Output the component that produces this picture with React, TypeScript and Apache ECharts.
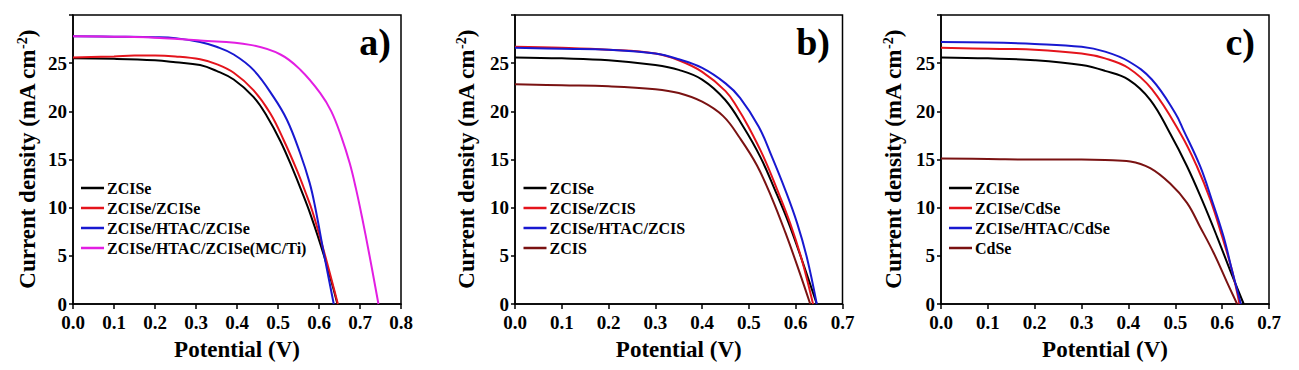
import { useEffect, useRef } from "react";
import * as echarts from "echarts";

// ---------- Panel a ----------
const aV_ZCISe = [0, 0.1, 0.2, 0.25, 0.31, 0.35, 0.392, 0.44, 0.473, 0.506, 0.538, 0.555, 0.58, 0.613, 0.645];
const aJ_ZCISe = [25.5, 25.45, 25.3, 25.1, 24.8, 24.2, 23.3, 21.5, 19.5, 16.9, 13.8, 12.0, 9.2, 4.9, 0];
const aV_ZZ = [0, 0.1, 0.15, 0.2, 0.25, 0.31, 0.35, 0.392, 0.44, 0.481, 0.514, 0.546, 0.567, 0.584, 0.615, 0.646];
const aJ_ZZ = [25.6, 25.7, 25.8, 25.8, 25.7, 25.4, 24.9, 24.0, 22.2, 19.8, 17.0, 13.9, 11.6, 9.6, 5.0, 0];
const aV_ZHZ = [0, 0.1, 0.2, 0.25, 0.31, 0.35, 0.392, 0.44, 0.489, 0.522, 0.554, 0.577, 0.59, 0.613, 0.636];
const aJ_ZHZ = [27.8, 27.75, 27.7, 27.6, 27.2, 26.7, 25.9, 24.3, 21.5, 19.1, 15.65, 12.6, 10.2, 5.0, 0];
const aV_MC = [0, 0.1, 0.2, 0.31, 0.432, 0.506, 0.555, 0.603, 0.63, 0.655, 0.675, 0.69, 0.705, 0.722, 0.745];
const aJ_MC = [27.8, 27.75, 27.65, 27.35, 26.9, 25.9, 24.3, 21.9, 20.0, 17.3, 14.6, 12.0, 9.0, 5.3, 0];

// ---------- Panel b ----------
const bV_ZCISe = [0, 0.1, 0.2, 0.3, 0.35, 0.4, 0.449, 0.488, 0.524, 0.556, 0.585, 0.613, 0.645];
const bJ_ZCISe = [25.6, 25.5, 25.3, 24.8, 24.3, 23.3, 21.2, 18.4, 15.3, 11.8, 8.4, 4.6, 0];
const bV_ZZCIS = [0, 0.1, 0.2, 0.3, 0.35, 0.4, 0.45, 0.475, 0.499, 0.531, 0.561, 0.588, 0.613, 0.637];
const bJ_ZZCIS = [26.7, 26.6, 26.4, 26.0, 25.3, 24.1, 22.1, 20.4, 18.4, 15.3, 11.8, 8.4, 4.6, 0];
const bV_ZHZCIS = [0, 0.1, 0.2, 0.3, 0.35, 0.4, 0.45, 0.481, 0.521, 0.549, 0.578, 0.603, 0.624, 0.645];
const bJ_ZHZCIS = [26.6, 26.5, 26.4, 26.0, 25.4, 24.5, 22.9, 21.4, 18.4, 15.3, 11.8, 8.4, 4.8, 0];
const bV_ZCIS = [0, 0.1, 0.2, 0.3, 0.35, 0.4, 0.445, 0.481, 0.517, 0.549, 0.578, 0.606, 0.631];
const bJ_ZCIS = [22.8, 22.7, 22.6, 22.3, 21.9, 21.0, 19.5, 17.2, 14.4, 11.0, 7.4, 3.6, 0];

// ---------- Panel c ----------
const cV_ZCISe = [0, 0.1, 0.2, 0.3, 0.35, 0.4, 0.4465, 0.489, 0.525, 0.557, 0.589, 0.617, 0.646];
const cJ_ZCISe = [25.6, 25.5, 25.3, 24.8, 24.2, 23.3, 21.2, 17.7, 14.3, 10.8, 7.0, 3.5, 0];
const cV_ZCdSe = [0, 0.1, 0.2, 0.3, 0.35, 0.4, 0.45, 0.511, 0.546, 0.575, 0.6, 0.621, 0.637];
const cJ_ZCdSe = [26.6, 26.5, 26.4, 26.0, 25.5, 24.5, 22.3, 17.7, 14.3, 10.8, 7.0, 3.5, 0];
const cV_ZHCdSe = [0, 0.1, 0.2, 0.3, 0.35, 0.4, 0.45, 0.5, 0.518, 0.553, 0.578, 0.603, 0.621, 0.64];
const cJ_ZHCdSe = [27.2, 27.15, 27.0, 26.7, 26.2, 25.2, 23.3, 19.8, 18.0, 14.3, 10.8, 7.0, 3.5, 0];
const cV_CdSe = [0, 0.1, 0.2, 0.3, 0.35, 0.404, 0.4465, 0.489, 0.525, 0.553, 0.582, 0.61, 0.632];
const cJ_CdSe = [15.1, 15.05, 15.0, 15.0, 14.95, 14.8, 14.1, 12.5, 10.5, 8.0, 5.3, 2.3, 0];

const yTicks = [0, 5, 10, 15, 20, 25];
const panelLabels = ["a)", "b)", "c)"];

const BLACK = "#000000";
const RED = "#e4141c";
const BLUE = "#1818d0";
const MAGENTA = "#e21ee2";
const BROWN = "#7a1212";

const FONT = "Liberation Serif";

const zip = (xs: number[], ys: number[]) => xs.map((x, i) => [x, ys[i]]);

export default function App() {
  const ref = useRef<HTMLDivElement>(null);

  useEffect(() => {
    document.body.style.margin = "0";
    const chart = echarts.init(ref.current!, null, { renderer: "svg" });

    const grids = [
      { left: 73, top: 15, width: 328, height: 289 },
      { left: 515, top: 15, width: 327.5, height: 289 },
      { left: 941, top: 15, width: 328, height: 289 },
    ];
    const xMax = [0.8, 0.7, 0.7];
    const yNameGap = [34, 37, 35.5];

    const mk = (name: string, xs: number[], ys: number[], color: string, idx: number) => ({
      type: "line",
      name,
      xAxisIndex: idx,
      yAxisIndex: idx,
      data: zip(xs, ys),
      showSymbol: false,
      symbol: "none",
      smooth: 0.4,
      lineStyle: { color, width: 2 },
      itemStyle: { color },
      z: 3,
    });

    const series = [
      mk("ZCISe", aV_ZCISe, aJ_ZCISe, BLACK, 0),
      mk("ZCISe/ZCISe", aV_ZZ, aJ_ZZ, RED, 0),
      mk("ZCISe/HTAC/ZCISe", aV_ZHZ, aJ_ZHZ, BLUE, 0),
      mk("ZCISe/HTAC/ZCISe(MC/Ti)", aV_MC, aJ_MC, MAGENTA, 0),
      mk("ZCISe", bV_ZCISe, bJ_ZCISe, BLACK, 1),
      mk("ZCISe/ZCIS", bV_ZZCIS, bJ_ZZCIS, RED, 1),
      mk("ZCISe/HTAC/ZCIS", bV_ZHZCIS, bJ_ZHZCIS, BLUE, 1),
      mk("ZCIS", bV_ZCIS, bJ_ZCIS, BROWN, 1),
      mk("ZCISe", cV_ZCISe, cJ_ZCISe, BLACK, 2),
      mk("ZCISe/CdSe", cV_ZCdSe, cJ_ZCdSe, RED, 2),
      mk("ZCISe/HTAC/CdSe", cV_ZHCdSe, cJ_ZHCdSe, BLUE, 2),
      mk("CdSe", cV_CdSe, cJ_CdSe, BROWN, 2),
    ];

    const legendData = [
      ["ZCISe", "ZCISe/ZCISe", "ZCISe/HTAC/ZCISe", "ZCISe/HTAC/ZCISe(MC/Ti)"],
      ["ZCISe", "ZCISe/ZCIS", "ZCISe/HTAC/ZCIS", "ZCIS"],
      ["ZCISe", "ZCISe/CdSe", "ZCISe/HTAC/CdSe", "CdSe"],
    ];
    const legendLeft = [81, 523.5, 949];

    const option: any = {
      animation: false,
      backgroundColor: "#ffffff",
      textStyle: { fontFamily: FONT },
      grid: grids.map((g) => ({
        ...g,
        show: true,
        borderColor: "#000",
        borderWidth: 1.5,
        backgroundColor: "transparent",
      })),
      xAxis: grids.map((_, i) => ({
        type: "value",
        gridIndex: i,
        min: 0,
        max: xMax[i],
        interval: 0.1,
        name: "Potential (V)",
        nameLocation: "middle",
        nameGap: 34,
        nameTextStyle: { fontFamily: FONT, fontWeight: "bold", fontSize: 23, color: "#000" },
        axisLine: { show: true, onZero: false, lineStyle: { color: "#000", width: 1.5 } },
        axisTick: { show: true, inside: false, length: 5, lineStyle: { color: "#000", width: 1.5 } },
        axisLabel: {
          margin: 9,
          fontFamily: FONT,
          fontWeight: "bold",
          fontSize: 19,
          color: "#000",
          formatter: (v: number) => v.toFixed(1),
        },
        splitLine: { show: false },
      })),
      yAxis: grids.map((_, i) => ({
        type: "value",
        gridIndex: i,
        min: 0,
        max: 30,
        interval: 5,
        name: "{t|Current density (mA cm}{s|-2}{t|)}",
        nameLocation: "middle",
        nameGap: yNameGap[i],
        nameRotate: 90,
        nameTextStyle: {
          fontFamily: FONT,
          rich: {
            t: { fontFamily: FONT, fontWeight: "bold", fontSize: 23, color: "#000" },
            s: { fontFamily: FONT, fontWeight: "bold", fontSize: 14, color: "#000", verticalAlign: "top", padding: [0, 0, 10, 0] },
          },
        },
        axisLine: { show: true, onZero: false, lineStyle: { color: "#000", width: 1.5 } },
        axisTick: { show: true, inside: false, length: 4, lineStyle: { color: "#000", width: 1.5 } },
        axisLabel: {
          margin: 6,
          fontFamily: FONT,
          fontWeight: "bold",
          fontSize: 19,
          color: "#000",
          formatter: (v: number) => (yTicks.includes(v) ? String(v) : ""),
        },
        splitLine: { show: false },
      })),
      legend: legendData.map((d, i) => ({
        data: d,
        orient: "vertical",
        left: legendLeft[i],
        top: 180,
        padding: 0,
        itemGap: 4,
        itemWidth: 23,
        itemHeight: 2.5,
        icon: "rect",
        selectedMode: false,
        textStyle: { fontFamily: FONT, fontWeight: "bold", fontSize: 16, color: "#000", lineHeight: 16, padding: [0, 0, 0, -2] },
      })),
      graphic: [
        { x: 391, y: 42 },
        { x: 830, y: 42 },
        { x: 1255, y: 42 },
      ].map((p, i) => ({
        type: "text",
        x: p.x,
        y: p.y,
        style: {
          text: panelLabels[i],
          fontFamily: FONT,
          fontWeight: "bold",
          fontSize: 38,
          fill: "#000",
          textAlign: "right",
          textVerticalAlign: "middle",
        },
        z: 10,
      })),
      series,
    };

    chart.setOption(option);
    return () => chart.dispose();
  }, []);

  return <div ref={ref} style={{ width: 1299, height: 370 }} />;
}
